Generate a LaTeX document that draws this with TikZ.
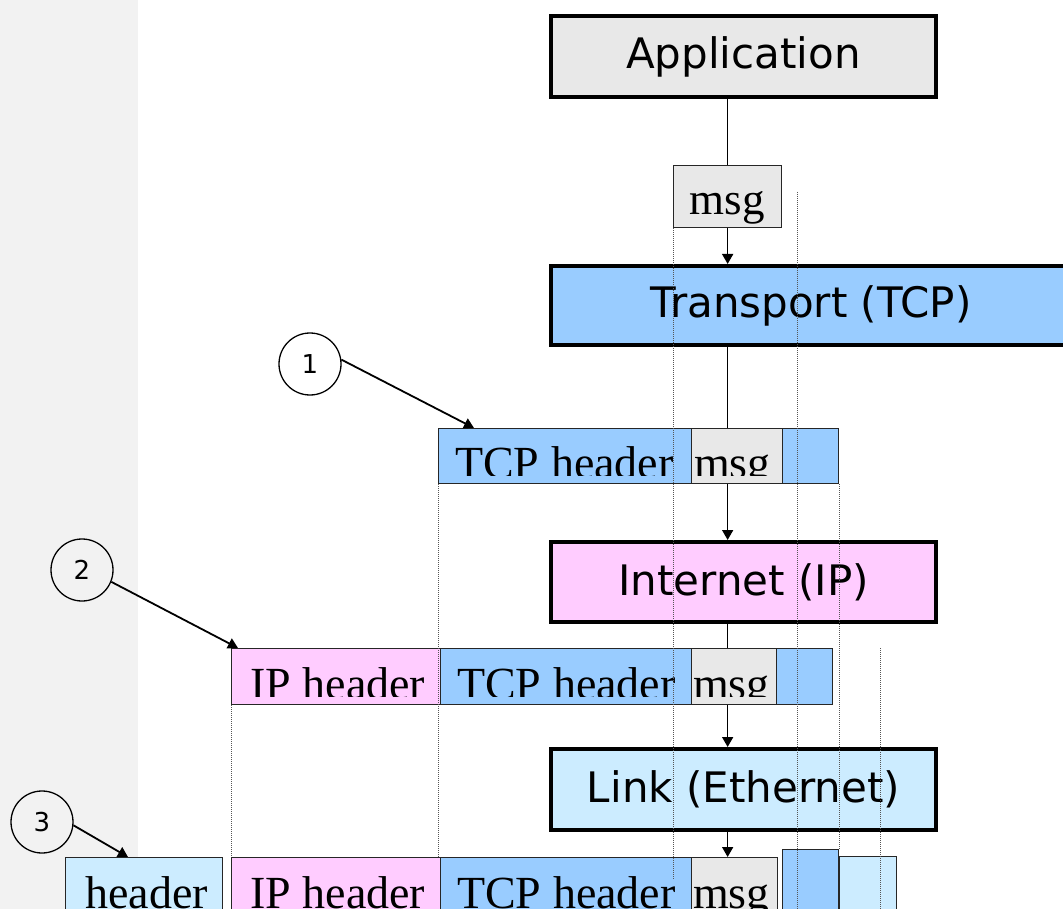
\documentclass[tikz,border=0pt]{standalone}
\usepackage{fontspec}
\usetikzlibrary{arrows.meta,calc}
\newfontfamily\layerfont{DejaVu Sans}
\newfontfamily\pktfont{Liberation Serif}
\definecolor{appgray}{HTML}{E8E8E8}
\definecolor{tcpblue}{HTML}{99CCFF}
\definecolor{ippink}{HTML}{FFCCFF}
\definecolor{ethblue}{HTML}{CCECFF}
\definecolor{bandgray}{HTML}{F2F2F2}
\definecolor{guide}{HTML}{555555}
\tikzset{
 layer/.style={draw=black, line width=4pt, rectangle, inner sep=0pt, anchor=north west, font=\layerfont\fontsize{42}{50}\selectfont},
 pkt/.style={draw=black!85, line width=1.3pt, rectangle, inner sep=0pt, anchor=north west},
 ptext/.style={font=\pktfont\fontsize{46}{54}\selectfont, inner sep=0pt, anchor=base west},
 num/.style={circle, draw=black, line width=1.3pt, minimum size=62pt, inner sep=0pt, font=\layerfont\fontsize{26}{30}\selectfont},
 flow/.style={line width=1.5pt, -{Triangle[width=11pt,length=10pt]}},
 plain/.style={line width=1.5pt},
 pointer/.style={line width=1.8pt, -{Triangle[width=11pt,length=10pt]}},
 guideline/.style={draw=guide, line width=0.8pt, dash pattern=on 1pt off 1pt},
}
\newcommand\pktbox[6]{\node[pkt, fill=#6, minimum width={#4-#2}, minimum height={#5-#3}] (#1) at (#2,#3) {};}
\newcommand\pkttext[5]{\begin{scope}\clip (#1.north west) rectangle ($(#1.south east)+(0,-9)$);
 \node[ptext] (#2) at (#3,#4) {#5};\end{scope}}
\begin{document}
\begin{tikzpicture}[x=1pt,y=-1pt]
\clip (0,0) rectangle (1063,909);
\fill[white] (0,0) rectangle (1063,909);
\fill[bandgray] (0,0) rectangle (138,909);

% layers
\node[layer, fill=appgray, minimum width=385pt, minimum height=81pt] (app) at (549,14) {Application};
\node[layer, fill=tcpblue, minimum width=520pt, minimum height=79pt] (tr) at (549,264) {Transport (TCP)};
\node[layer, fill=ippink, minimum width=385pt, minimum height=80pt] (ip) at (549,540) {Internet (IP)};
\node[layer, fill=ethblue, minimum width=385pt, minimum height=81pt] (lk) at (549,747) {Link (Ethernet)};

% top message
\pktbox{msg0}{673}{165}{781}{227}{appgray}
\node[font=\pktfont\fontsize{45}{54}\selectfont, inner sep=0pt, anchor=base] (msg0t) at (727,215) {msg};

% row 1
\pktbox{tcp1}{438}{428}{691}{483}{tcpblue}
\pktbox{m1}{691}{428}{782}{483}{appgray}
\pktbox{t1}{782}{428}{838}{483}{tcpblue}
\pkttext{tcp1}{tcp1t}{455}{478.5}{TCP header}
\pkttext{m1}{m1t}{694}{478.5}{msg}

% row 2
\pktbox{ip2}{231}{648}{440}{704}{ippink}
\pktbox{tcp2}{440}{648}{691}{704}{tcpblue}
\pktbox{m2}{691}{648}{776}{704}{appgray}
\pktbox{t2}{776}{648}{832}{704}{tcpblue}
\pkttext{ip2}{ip2t}{250}{699.5}{IP header}
\pkttext{tcp2}{tcp2t}{457}{699.5}{TCP header}
\pkttext{m2}{m2t}{693}{699.5}{msg}

% row 3
\pktbox{eh3}{65}{857}{222}{925}{ethblue}
\pktbox{ip3}{231}{857}{440}{925}{ippink}
\pktbox{tcp3}{440}{857}{691}{925}{tcpblue}
\pktbox{m3}{691}{857}{777}{925}{appgray}
\pktbox{t3}{782}{849}{838}{925}{tcpblue}
\pktbox{e3}{839}{856}{896}{925}{ethblue}
\pkttext{eh3}{eh3t}{85}{908}{header}
\pkttext{ip3}{ip3t}{250}{908}{IP header}
\pkttext{tcp3}{tcp3t}{457}{908}{TCP header}
\pkttext{m3}{m3t}{693}{908}{msg}

% flow connectors
\draw[plain] (app.south -| msg0.north) -- (msg0.north);
\draw[flow] (msg0.south) -- (tr.north -| msg0.south);
\draw[plain] (tr.south -| msg0.south) -- (tcp1.north -| msg0.south);
\draw[flow] (m1.south -| msg0.south) -- (ip.north -| msg0.south);
\draw[plain] (ip.south -| msg0.south) -- (tcp2.north -| msg0.south);
\draw[flow] (m2.south -| msg0.south) -- (lk.north -| msg0.south);
\draw[flow] (lk.south -| msg0.south) -- (m3.north -| msg0.south);

% guides
\draw[guideline] (msg0.south west) -- (673,880);
\draw[guideline] (797,192) -- (797,909);
\draw[guideline] (t1.south east) -- (t3.north east);
\draw[guideline] (880,648) -- (880,909);
\draw[guideline] (tcp1.south west) -- (438,857);
\draw[guideline] (ip2.south west) -- (ip3.north west);

% numbered callouts
\node[num] (c1) at (310,364) {1};
\node[num] (c2) at (82,570) {2};
\node[num] (c3) at (42,822) {3};
\draw[pointer] (c1.8) -- ($(tcp1.north west)+(36,0)$);
\draw[pointer] (c2.-22) -- ($(ip2.north west)+(7,0)$);
\draw[pointer] (c3.-6) -- ($(eh3.north west)+(63,0)$);
\end{tikzpicture}
\end{document}
